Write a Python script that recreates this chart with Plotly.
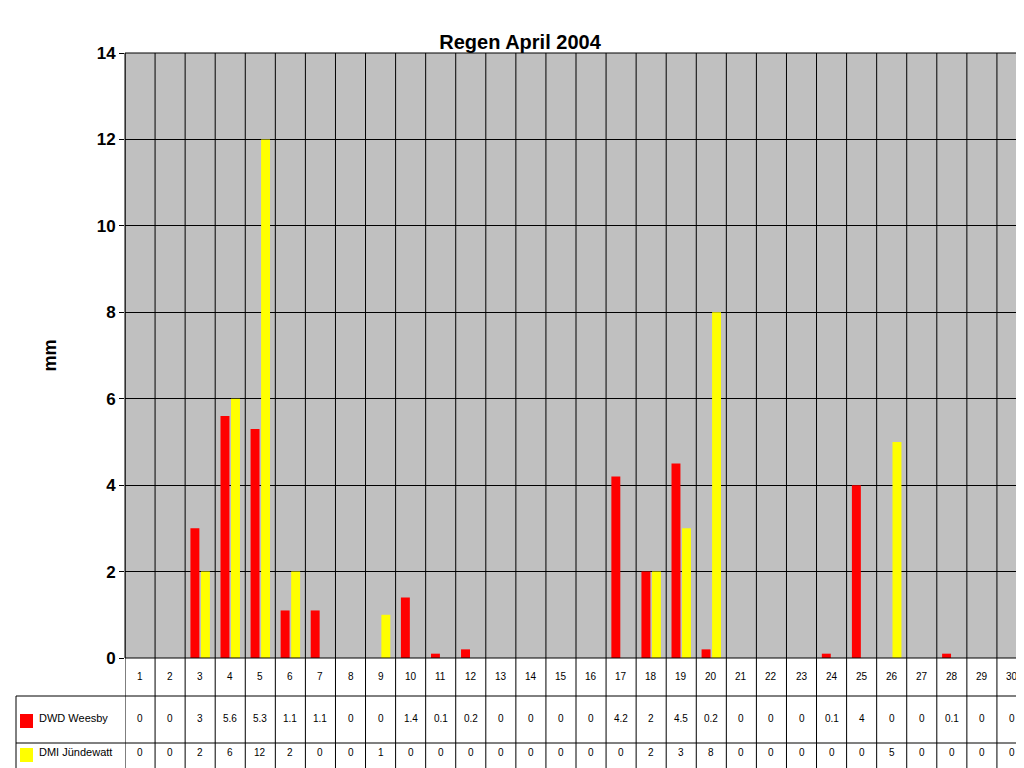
import plotly.graph_objects as go

days = list(range(1, 31))
dwd = [0,0,3,5.6,5.3,1.1,1.1,0,0,1.4,0.1,0.2,0,0,0,0,4.2,2,4.5,0.2,0,0,0,0.1,4,0,0,0.1,0,0]
dmi = [0,0,2,6,12,2,0,0,1,0,0,0,0,0,0,0,0,2,3,8,0,0,0,0,0,5,0,0,0,0]
names = ["DWD Weesby", "DMI Jündewatt"]
colors = ["#FF0000", "#FFFF00"]

W, H = 1024, 768
L, R, T, B = 117, 5, 45, 118
ph = H - T - B
def py(p):  # pixel y -> paper
    return (H - B - p) / ph
def px(p):
    return (p - L) / (W - L - R)

fig = go.Figure()
for n, v, c in zip(names, [dwd, dmi], colors):
    fig.add_bar(x=days, y=v, name=n, marker=dict(color=c, line=dict(width=0)))

shapes = []
# vertical grid / table column lines
for i in range(31):
    shapes.append(dict(type="line", xref="x", yref="paper", x0=i + 0.5, x1=i + 0.5,
                       y0=1, y1=py(762), line=dict(color="black", width=1)))
# table horizontal lines
for p in [688, 735, 762]:
    shapes.append(dict(type="line", xref="paper", yref="paper", x0=px(8), x1=1,
                       y0=py(p), y1=py(p), line=dict(color="black", width=1)))
shapes.append(dict(type="line", xref="paper", yref="paper", x0=px(8), x1=px(8),
                   y0=py(688), y1=py(762), line=dict(color="black", width=1)))
shapes.append(dict(type="rect", xref="paper", yref="paper", x0=0, x1=1, y0=0, y1=1,
                   line=dict(color="black", width=1)))
# legend keys
for p, c in [(713, colors[0]), (747, colors[1])]:
    shapes.append(dict(type="rect", xref="paper", yref="paper", x0=px(12), x1=px(25),
                       y0=py(p + 7), y1=py(p - 7), fillcolor=c, line=dict(width=0)))

ann = []
for d in days:
    ann.append(dict(x=d, y=py(676), xref="x", yref="paper", text=str(d), showarrow=False,
                    font=dict(size=10, color="black")))
for d, v in zip(days, dwd):
    ann.append(dict(x=d, y=py(718), xref="x", yref="paper", text=f"{v:g}", showarrow=False,
                    font=dict(size=10, color="black")))
for d, v in zip(days, dmi):
    ann.append(dict(x=d, y=py(752), xref="x", yref="paper", text=f"{v:g}", showarrow=False,
                    font=dict(size=10, color="black")))
for p, n in [(718, names[0]), (752, names[1])]:
    ann.append(dict(x=px(29), y=py(p), xref="paper", yref="paper", text=n, showarrow=False,
                    xanchor="left", font=dict(size=11, color="black")))

fig.update_layout(
    width=W, height=H, margin=dict(l=L, r=R, t=T, b=B),
    paper_bgcolor="white", plot_bgcolor="#C0C0C0",
    barmode="group", bargap=0.3, bargroupgap=0.15, showlegend=False,
    title=dict(text="<b>Regen April 2004</b>", x=0.5, xanchor="center", y=0.965,
               font=dict(family="Liberation Sans, Arial", size=20, color="black")),
    font=dict(family="Liberation Sans, Arial", color="black"),
    xaxis=dict(range=[0.5, 30.5], showticklabels=False, showgrid=False, ticks="", zeroline=False),
    yaxis=dict(range=[0, 14], dtick=2, showgrid=True, gridcolor="black", gridwidth=1,
               ticks="outside", ticklen=5, tickcolor="black", zeroline=False,
               tickfont=dict(size=17, family="Liberation Sans, Arial"),
               title=dict(text="<b>mm</b>", font=dict(size=18), standoff=35)),
    shapes=shapes, annotations=ann,
)
fig.update_yaxes(tickprefix="<b>", ticksuffix="</b>")
fig.write_html("out.html")
